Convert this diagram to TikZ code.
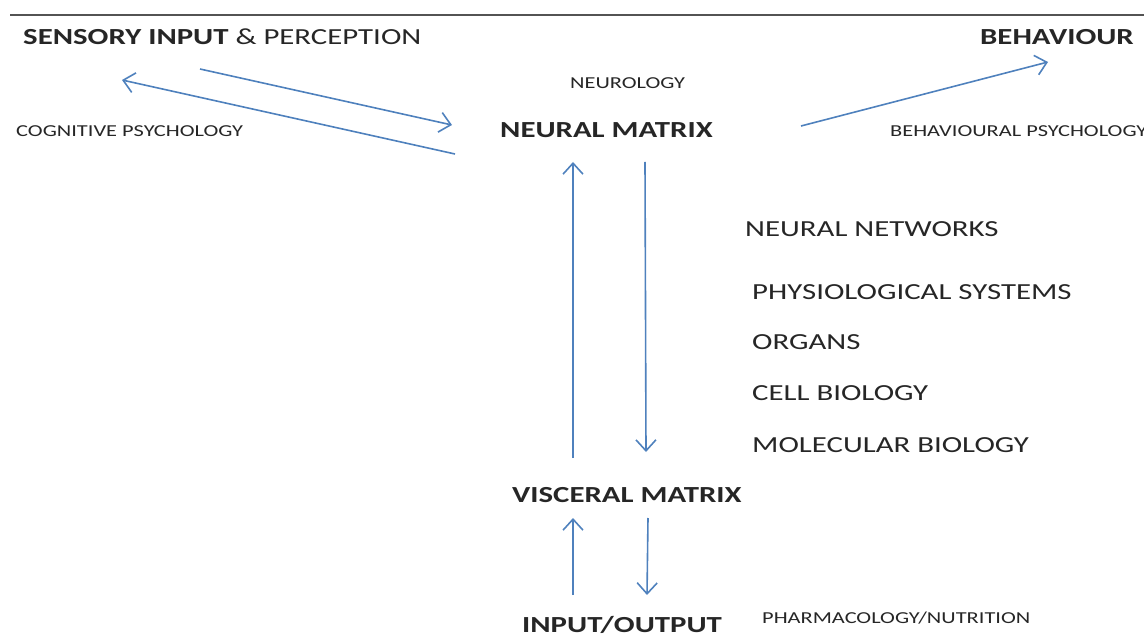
\documentclass[tikz,border=0pt]{standalone}
\usepackage{fontspec}
\setmainfont{Carlito}[FakeStretch=1.34]
\usetikzlibrary{arrows.meta}
\definecolor{linkblue}{HTML}{4F81BD}
\definecolor{ink}{HTML}{262626}

\begin{document}
\begin{tikzpicture}[x=1pt, y=-1pt,
        level/.style = {inner sep=0, anchor=base west, text=ink, font=\fontsize{23}{27}\selectfont},
        matrixname/.style = {level, font=\fontsize{23}{27}\selectfont\bfseries},
        field/.style = {inner sep=0, anchor=base west, text=ink, font=\fontsize{16.7}{20}\selectfont},
        link/.style = {draw=linkblue, line width=1.6pt, -{Straight Barb[length=11pt, width=20pt]}},
        >=latex
        ]

        \useasboundingbox (0,0) rectangle (1144,644);
        \draw[gray!65!black, line width=2.5pt] (10,15) -- (1150,15);

        % top row
        \node (sensory) at (23,45)      [matrixname] {SENSORY INPUT \mdseries\& PERCEPTION};
        \node (cognitive) at (16,137)   [field] {COGNITIVE PSYCHOLOGY};
        \node (neurology) at (570,89)   [field] {NEUROLOGY};
        \node (neural) at (500,138)     [matrixname] {NEURAL MATRIX};
        \node (behaviour) at (980,45)   [matrixname] {BEHAVIOUR};
        \node (behavpsy) at (890,137)   [field] {BEHAVIOURAL PSYCHOLOGY};

        % levels
        \node (networks) at (745,237)   [level] {NEURAL NETWORKS};
        \node (physio) at (752,300)     [level] {PHYSIOLOGICAL SYSTEMS};
        \node (organs) at (752,350)     [level] {ORGANS};
        \node (cell) at (752,400)       [level] {CELL BIOLOGY};
        \node (molecular) at (752,452)  [level] {MOLECULAR BIOLOGY};

        % bottom
        \node (visceral) at (512,502)   [matrixname] {VISCERAL MATRIX};
        \node (io) at (522,632)         [matrixname] {INPUT/OUTPUT};
        \node (pharma) at (762,623)     [field] {PHARMACOLOGY/NUTRITION};

        \coordinate (senseA) at (200,69);
        \coordinate (senseB) at (452,125);
        \coordinate (cogA) at (455,154);
        \coordinate (cogB) at (122,80);
        \coordinate (behA) at (801,126);
        \coordinate (behB) at (1048,62);
        \coordinate (upA) at (573,458);
        \coordinate (upB) at (573,162);
        \coordinate (downA) at (645,162);
        \coordinate (downB) at (646,452);
        \coordinate (vupA) at (573,595);
        \coordinate (vupB) at (573,518);
        \coordinate (vdownA) at (648,518);
        \coordinate (vdownB) at (647,595);

        \draw[link] (senseA) -- (senseB);
        \draw[link] (cogA) -- (cogB);
        \draw[link] (behA) -- (behB);
        \draw[link] (upA) -- (upB);
        \draw[link] (downA) -- (downB);
        \draw[link] (vupA) -- (vupB);
        \draw[link] (vdownA) -- (vdownB);
    \end{tikzpicture}
\end{document}
